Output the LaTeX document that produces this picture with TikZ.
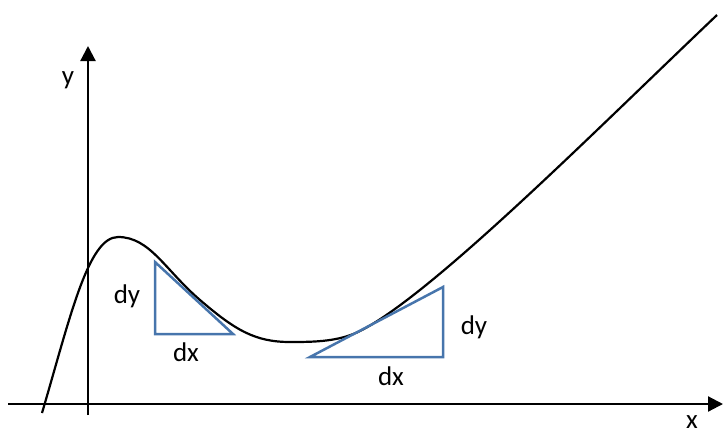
\documentclass[tikz,border=0pt]{standalone}
\usepackage{fontspec}
\setmainfont{Carlito}
\usetikzlibrary{arrows.meta}
\definecolor{triblue}{HTML}{4775AC}
\tikzset{
  axis/.style={line width=2.2pt,-{Triangle[length=15pt,width=15pt]}},
  curve/.style={line width=2.2pt},
  tri/.style={draw=triblue,line width=2.5pt,line join=miter},
  lbl/.style={font=\fontsize{27}{29}\selectfont,inner sep=0pt}
}
\begin{document}
\begin{tikzpicture}[x=1pt,y=-1pt]
\useasboundingbox (0,0) rectangle (723,432);
% axes
\coordinate (xs) at (8,404);
\coordinate (xe) at (723,404);
\coordinate (ys) at (88,415);
\coordinate (ye) at (88,46);
\draw[axis] (xs) -- (xe);
\draw[axis] (ys) -- (ye);
\node[lbl] (ylab) at (68,80) {y};
\node[lbl,anchor=base] (xlab) at (692,428) {x};
% curve
\draw[curve] (42,413) .. controls (70,318) and (88,237) .. (118,237)
  .. controls (150,237) and (165,270) .. (200,300)
  .. controls (235,330) and (255,342) .. (290,342)
  .. controls (315,342) and (340,341.7) .. (362,330)
  .. controls (436,291) and (597,129) .. (717,15);
% left triangle
\coordinate (a1) at (155,262);
\coordinate (a2) at (155,334);
\coordinate (a3) at (233,334);
\draw[tri] (a1) -- (a2) -- (a3) -- cycle;
\node[lbl] (dyl) at (127,296) {dy};
\node[lbl] (dxl) at (186,352) {dx};
% right triangle
\coordinate (b1) at (310,357);
\coordinate (b2) at (443,287);
\coordinate (b3) at (443,357);
\draw[tri] (b1) -- (b2) -- (b3) -- cycle;
\node[lbl] (dyr) at (474,327) {dy};
\node[lbl] (dxr) at (391,376) {dx};
\end{tikzpicture}
\end{document}
